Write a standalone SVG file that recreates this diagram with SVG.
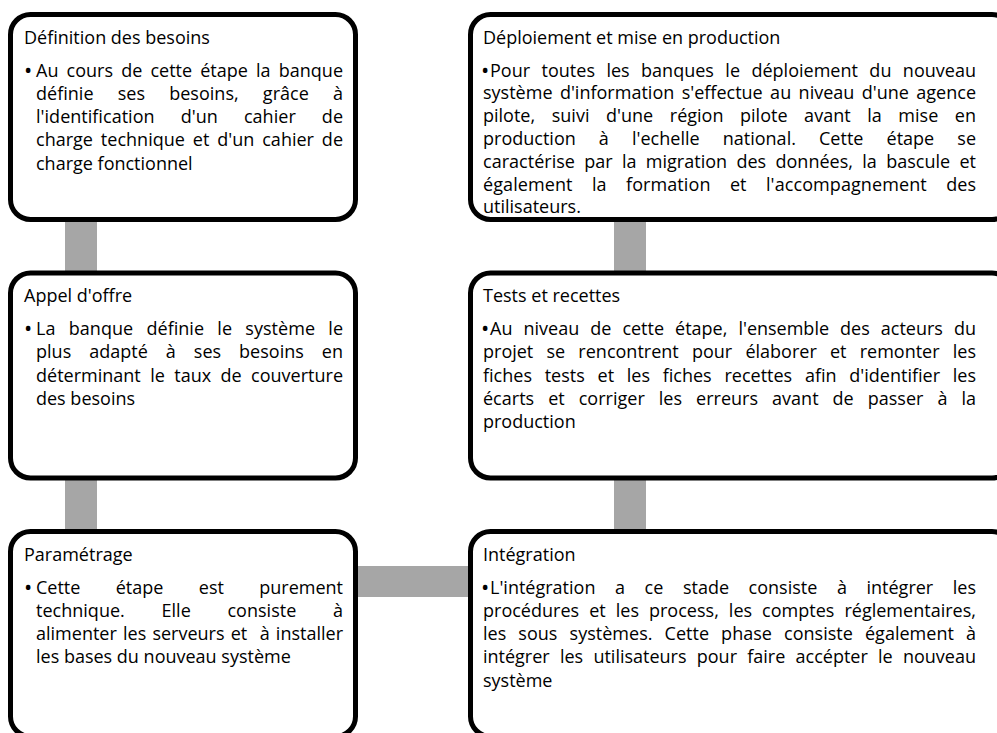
<svg xmlns="http://www.w3.org/2000/svg" width="997" height="733" viewBox="0 0 997 733">
<style>
text{font-family:"Open Sans","Liberation Sans",sans-serif;font-size:18px;fill:#000}
text.b{font-size:22px}
.box{fill:#fff;stroke:#000;stroke-width:5}
.bar{fill:#a6a6a6}
</style>
<rect width="997" height="733" fill="#fff"/>
<g id="connectors">
<rect class="bar" x="65" y="215" width="32" height="62"/>
<rect class="bar" x="65" y="474" width="32" height="62"/>
<rect class="bar" x="614" y="215" width="32" height="62"/>
<rect class="bar" x="614" y="474" width="32" height="62"/>
<rect class="bar" x="352" y="566" width="122" height="31"/>
</g>
<g id="definition">
<rect class="box" x="10.5" y="14.5" width="345" height="205" rx="20"/>
<text x="24" y="43.5">Définition des besoins</text>
<text class="b" x="24" y="77.5">•</text>
<text x="36" y="76.5" word-spacing="3.5" textLength="307" lengthAdjust="spacing">Au cours de cette étape la banque</text>
<text x="36" y="99.8" word-spacing="19.5" textLength="307" lengthAdjust="spacing">définie ses besoins, grâce à</text>
<text x="36" y="123.1" word-spacing="21.4" textLength="307" lengthAdjust="spacing">l'identification d'un cahier de</text>
<text x="36" y="146.4" word-spacing="3.2" textLength="307" lengthAdjust="spacing">charge technique et d'un cahier de</text>
<text x="36" y="169.7">charge fonctionnel</text>
</g>
<g id="appel">
<rect class="box" x="10.5" y="273" width="345" height="205" rx="20"/>
<text x="24" y="302">Appel d'offre</text>
<text class="b" x="24" y="336">•</text>
<text x="36" y="335" word-spacing="8.6" textLength="307" lengthAdjust="spacing">La banque définie le système le</text>
<text x="36" y="358.3" word-spacing="13.2" textLength="307" lengthAdjust="spacing">plus adapté à ses besoins en</text>
<text x="36" y="381.6" word-spacing="4.7" textLength="307" lengthAdjust="spacing">déterminant le taux de couverture</text>
<text x="36" y="404.9">des besoins</text>
</g>
<g id="parametrage">
<rect class="box" x="10.5" y="531.5" width="345" height="205" rx="20"/>
<text x="24" y="560.5">Paramétrage</text>
<text class="b" x="24" y="594.5">•</text>
<text x="36" y="593.5" word-spacing="30.7" textLength="307" lengthAdjust="spacing">Cette étape est purement</text>
<text x="36" y="616.8" word-spacing="32" textLength="307" lengthAdjust="spacing">technique. Elle consiste à</text>
<text x="36" y="640.1" word-spacing="1.5" textLength="307" lengthAdjust="spacing">alimenter les serveurs et &#160;à installer</text>
<text x="36" y="663.4">les bases du nouveau système</text>
</g>
<g id="deploiement">
<rect class="box" x="470.5" y="14.5" width="541.5" height="205" rx="20"/>
<text x="483" y="43.5">Déploiement et mise en production</text>
<text class="b" x="481" y="77.5">•</text>
<text x="490" y="76.5" word-spacing="6.7" textLength="486" lengthAdjust="spacing">Pour toutes les banques le déploiement du nouveau</text>
<text x="483" y="99.3" word-spacing="2.7" textLength="493" lengthAdjust="spacing">système d'information s'effectue au niveau d'une agence</text>
<text x="483" y="122.1" word-spacing="11.9" textLength="493" lengthAdjust="spacing">pilote, suivi d'une région pilote avant la mise en</text>
<text x="483" y="144.9" word-spacing="18.4" textLength="493" lengthAdjust="spacing">production à l'echelle national. Cette étape se</text>
<text x="483" y="167.7" word-spacing="4.6" textLength="493" lengthAdjust="spacing">caractérise par la migration des données, la bascule et</text>
<text x="483" y="190.5" word-spacing="14.6" textLength="493" lengthAdjust="spacing">également la formation et l'accompagnement des</text>
<text x="483" y="213.3">utilisateurs.</text>
</g>
<g id="tests">
<rect class="box" x="470.5" y="273" width="541.5" height="205" rx="20"/>
<text x="483" y="302">Tests et recettes</text>
<text class="b" x="481" y="336">•</text>
<text x="490" y="335" word-spacing="6.4" textLength="486" lengthAdjust="spacing">Au niveau de cette étape, l'ensemble des acteurs du</text>
<text x="483" y="358.3" word-spacing="8.5" textLength="493" lengthAdjust="spacing">projet se rencontrent pour élaborer et remonter les</text>
<text x="483" y="381.6" word-spacing="8" textLength="493" lengthAdjust="spacing">fiches tests et les fiches recettes afin d'identifier les</text>
<text x="483" y="404.9" word-spacing="9.3" textLength="493" lengthAdjust="spacing">écarts et corriger les erreurs avant de passer à la</text>
<text x="483" y="428.2">production</text>
</g>
<g id="integration">
<rect class="box" x="470.5" y="531.5" width="541.5" height="205" rx="20"/>
<text x="483" y="560.5">Intégration</text>
<text class="b" x="481" y="594.5">•</text>
<text x="490" y="593.5" word-spacing="14.9" textLength="486" lengthAdjust="spacing">L'intégration a ce stade consiste à intégrer les</text>
<text x="483" y="616.8" word-spacing="5.3" textLength="493" lengthAdjust="spacing">procédures et les process, les comptes réglementaires,</text>
<text x="483" y="640.1" word-spacing="7.4" textLength="493" lengthAdjust="spacing">les sous systèmes. Cette phase consiste également à</text>
<text x="483" y="663.4" word-spacing="5.6" textLength="493" lengthAdjust="spacing">intégrer les utilisateurs pour faire accépter le nouveau</text>
<text x="483" y="686.7">système</text>
</g>
</svg>
